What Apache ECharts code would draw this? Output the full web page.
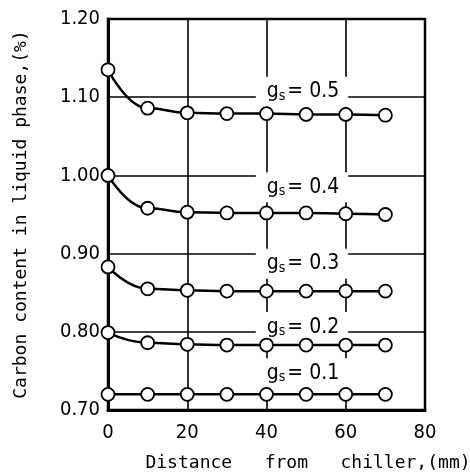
<!DOCTYPE html>
<html>
<head>
<meta charset="utf-8">
<script src="https://cdn.jsdelivr.net/npm/echarts@6/dist/echarts.min.js"></script>
<style>
  html, body { margin: 0; padding: 0; background: #fff; }
  #chart { width: 470px; height: 472px; }
</style>
</head>
<body>
<div id="chart"></div>
<script>
// distance from chiller (mm)
const distance = [0, 10, 20, 30, 40, 50, 60, 70];

// carbon content in liquid phase (%) for each solid fraction gs
const gsNames = ['0.5', '0.4', '0.3', '0.2', '0.1'];
const carbon05 = [1.135, 1.086, 1.080, 1.079, 1.079, 1.078, 1.078, 1.077];
const carbon04 = [1.000, 0.958, 0.953, 0.952, 0.952, 0.952, 0.951, 0.950];
const carbon03 = [0.883, 0.855, 0.853, 0.852, 0.852, 0.852, 0.852, 0.852];
const carbon02 = [0.799, 0.786, 0.784, 0.783, 0.783, 0.783, 0.783, 0.783];
const carbon01 = [0.720, 0.720, 0.720, 0.720, 0.720, 0.720, 0.720, 0.720];
const allCarbon = [carbon05, carbon04, carbon03, carbon02, carbon01];

// where the "gs = ..." labels sit (data coords)
const labelX = 37.3;
const labelY = [1.107, 0.985, 0.887, 0.806, 0.747];

const tickFont = "'DejaVu Sans Condensed', 'Liberation Sans Narrow', sans-serif";
const titleFont = "'DejaVu Sans Mono', 'Liberation Mono', monospace";

const chart = echarts.init(document.getElementById('chart'));

const lineSeries = allCarbon.map((vals, i) => ({
  name: 'gs=' + gsNames[i],
  type: 'line',
  data: distance.map((d, j) => [d, vals[j]]),
  smooth: 0.5,
  smoothMonotone: 'x',
  symbol: 'circle',
  symbolSize: 13,
  z: 5,
  lineStyle: { color: '#000', width: 2.5 },
  itemStyle: { color: '#fff', borderColor: '#000', borderWidth: 1.8 }
}));

const labelSeries = {
  type: 'scatter',
  silent: true,
  symbolSize: 0,
  z: 3,
  itemStyle: { opacity: 1, color: '#fff' },
  data: gsNames.map((g, i) => ({ value: [labelX, labelY[i]], name: g })),
  label: {
    show: true,
    position: 'right',
    distance: 0,
    color: '#000',
    opacity: 1,
    backgroundColor: '#fff',
    padding: [3, 9, 3, 11],
    formatter: p => '{g|g}{s|s}{v|= ' + p.name + '}',
    rich: {
      g: { fontFamily: tickFont, fontSize: 21, color: '#000', lineHeight: 24 },
      s: { fontFamily: tickFont, fontSize: 14, color: '#000', padding: [9, 2, 0, 0], lineHeight: 24 },
      v: { fontFamily: tickFont, fontSize: 21, color: '#000', lineHeight: 24 }
    }
  }
};

const option = {
  backgroundColor: '#fff',
  animation: false,
  grid: {
    left: 108, right: 45, top: 19, bottom: 62,
    outerBoundsMode: 'none',
    show: true, borderColor: '#000', borderWidth: 2.5
  },
  xAxis: {
    type: 'value',
    min: 0, max: 80, interval: 20,
    name: 'Distance   from   chiller,(mm)',
    nameLocation: 'middle',
    nameGap: 44,
    nameTextStyle: { fontFamily: titleFont, fontSize: 18, color: '#000', padding: [0, 0, 0, 83] },
    axisLine: { lineStyle: { color: '#000', width: 3 } },
    axisTick: { show: false },
    axisLabel: { fontFamily: tickFont, fontSize: 20, color: '#000', margin: 13 },
    splitLine: { show: true, lineStyle: { color: '#000', width: 1.6 } }
  },
  yAxis: {
    type: 'value',
    min: 0.7, max: 1.2, interval: 0.1,
    name: 'Carbon content in liquid phase,(%)',
    nameLocation: 'middle',
    nameGap: 78,
    nameTextStyle: { fontFamily: titleFont, fontSize: 18, color: '#000' },
    axisLine: { show: true, lineStyle: { color: '#000', width: 3 } },
    axisTick: { show: false },
    axisLabel: {
      fontFamily: tickFont, fontSize: 20, color: '#000', margin: 8,
      formatter: v => v.toFixed(2)
    },
    splitLine: { show: true, lineStyle: { color: '#000', width: 1.6 } }
  },
  series: [labelSeries].concat(lineSeries)
};

chart.setOption(option);
</script>
</body>
</html>
